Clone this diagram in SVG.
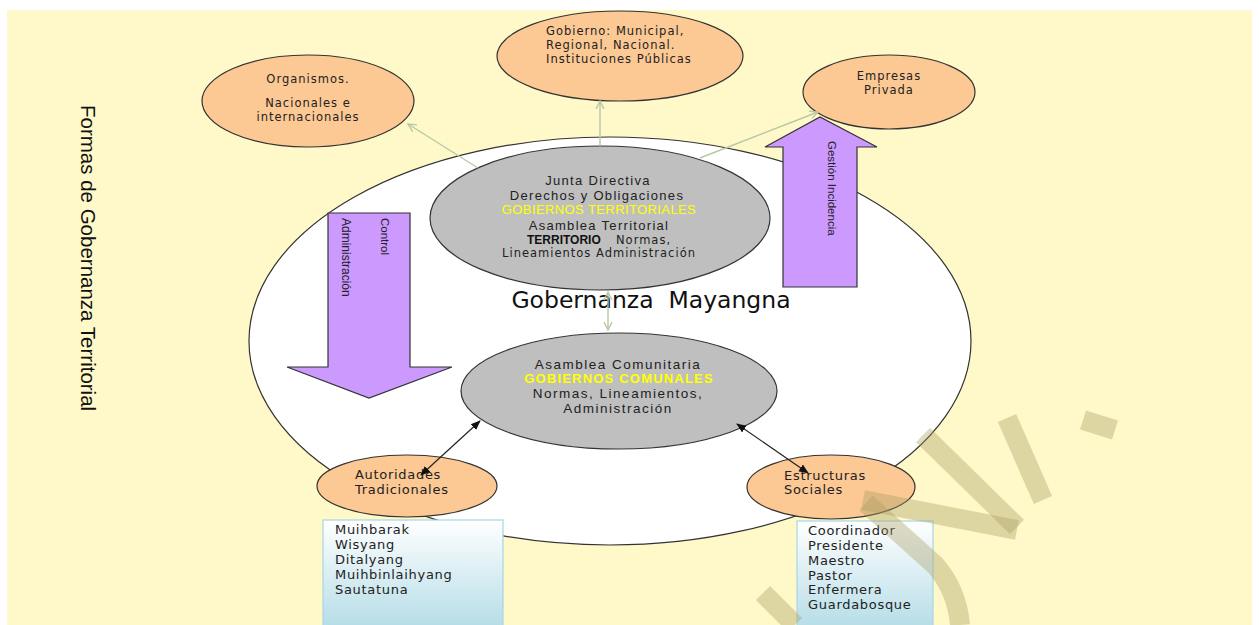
<svg xmlns="http://www.w3.org/2000/svg" width="1259" height="625" viewBox="0 0 1259 625">
<defs>
<style>
.org{fill:#FCC894;stroke:#333;stroke-width:1.2}
.gray{fill:#BFBFBF;stroke:#333;stroke-width:1.2}
.purple{fill:#CC99FF;stroke:#333;stroke-width:1.2}
.vt{font-family:"DejaVu Sans",Verdana,sans-serif;font-size:11.5px;letter-spacing:1px;fill:#222}
.ct{font-family:"Liberation Sans",Arial,sans-serif;font-size:13px;letter-spacing:1.3px;fill:#222}
.lt{font-family:"DejaVu Sans",Verdana,sans-serif;font-size:13px;letter-spacing:0.7px;fill:#222}
.rt{font-family:"Liberation Sans",Arial,sans-serif;font-size:11.5px;fill:#222}
.yel{fill:#FFFF00}
.green{stroke:#B5C9A5;stroke-width:1.4;fill:none}
.black{stroke:#222;stroke-width:1.2;fill:none}
.box{stroke:#A6D6E6;stroke-width:1.2;fill:url(#boxg)}
.wm{stroke:#A89F63;stroke-opacity:0.38;stroke-width:20;fill:none}
</style>
<linearGradient id="boxg" x1="0" y1="0" x2="0" y2="1">
<stop offset="0" stop-color="#FFFFFF"/>
<stop offset="1" stop-color="#B4DCE7"/>
</linearGradient>
<marker id="ga" viewBox="0 0 10 10" refX="9" refY="5" markerWidth="10" markerHeight="10" markerUnits="userSpaceOnUse" orient="auto-start-reverse">
<path d="M1,1 L9,5 L1,9" fill="none" stroke="#B5C9A5" stroke-width="1.4"/>
</marker>
<marker id="ba" viewBox="0 0 10 10" refX="9" refY="5" markerWidth="10" markerHeight="10" markerUnits="userSpaceOnUse" orient="auto-start-reverse">
<path d="M0,1 L10,5 L0,9 Z" fill="#111"/>
</marker>
</defs>

<rect x="7" y="10" width="1245" height="615" fill="#FFF9C9"/>

<text x="81" y="105" transform="rotate(90 81 105)" style="font-family:'Liberation Sans',Arial,sans-serif;font-size:20.5px;fill:#111">Formas de Gobernanza Territorial</text>

<g id="gobernanza-mayangna">
<ellipse cx="610" cy="341" rx="361" ry="204" fill="#FFFFFF" stroke="#333" stroke-width="1.2"/>
<text x="651" y="308" text-anchor="middle" style="font-family:'DejaVu Sans',Verdana,sans-serif;font-size:23.5px;fill:#111">Gobernanza&#160; Mayangna</text>
</g>

<g id="arrow-control">
<polygon class="purple" points="328,213 410,213 410,367 452,367 369,398 287,367 328,367"/>
<text class="rt" x="381" y="218" transform="rotate(90 381 218)">Control</text>
<text class="rt" x="342" y="218" transform="rotate(90 342 218)" style="font-size:12px">Administración</text>
</g>

<g id="arrow-gestion">
<polygon class="purple" points="783,287 857,287 857,147 877,147 820,117 765,147 783,147"/>
<text class="rt" x="828" y="141" transform="rotate(90 828 141)">Gestión Incidencia</text>
</g>

<g id="junta-directiva">
<ellipse class="gray" cx="600" cy="218" rx="170" ry="72"/>
<text class="ct" x="598" y="185" text-anchor="middle">Junta Directiva</text>
<text class="ct" x="597" y="200" text-anchor="middle">Derechos y Obligaciones</text>
<text class="ct yel" x="599" y="214" text-anchor="middle" style="letter-spacing:0.4px">GOBIERNOS TERRITORIALES</text>
<text class="ct" x="599" y="230" text-anchor="middle">Asamblea Territorial</text>
<text x="527" y="244" style="font-family:'Liberation Sans',Arial,sans-serif;font-size:12px;font-weight:bold;fill:#111">TERRITORIO</text>
<text class="vt" x="616" y="244">Normas,</text>
<text class="vt" x="599" y="257" text-anchor="middle">Lineamientos Administración</text>
</g>

<g id="asamblea-comunitaria">
<ellipse class="gray" cx="619" cy="391" rx="158" ry="58"/>
<text class="ct" x="618" y="369" text-anchor="middle" style="font-size:13.5px;letter-spacing:1.5px">Asamblea Comunitaria</text>
<text class="ct yel" x="619" y="383" text-anchor="middle" style="font-weight:bold;letter-spacing:1.2px">GOBIERNOS COMUNALES</text>
<text class="ct" x="618" y="398" text-anchor="middle" style="font-size:13.5px;letter-spacing:1.5px">Normas, Lineamientos,</text>
<text class="ct" x="618" y="413" text-anchor="middle" style="font-size:13.5px;letter-spacing:1.5px">Administración</text>
</g>

<g id="organismos">
<ellipse class="org" cx="308" cy="101" rx="106" ry="46"/>
<text class="vt" x="308" y="83" text-anchor="middle">Organismos.</text>
<text class="vt" x="308" y="107" text-anchor="middle">Nacionales e</text>
<text class="vt" x="308" y="121" text-anchor="middle">internacionales</text>
</g>

<g id="gobierno">
<ellipse class="org" cx="620" cy="56" rx="123" ry="45"/>
<text class="vt" x="546" y="35">Gobierno: Municipal,</text>
<text class="vt" x="546" y="49">Regional, Nacional.</text>
<text class="vt" x="546" y="63">Instituciones Públicas</text>
</g>

<g id="empresas">
<ellipse class="org" cx="889" cy="92" rx="86" ry="37"/>
<text class="vt" x="889" y="80" text-anchor="middle">Empresas</text>
<text class="vt" x="889" y="94" text-anchor="middle">Privada</text>
</g>

<g id="autoridades">
<ellipse class="org" cx="407" cy="486" rx="90" ry="31"/>
<text class="lt" x="355" y="479">Autoridades</text>
<text class="lt" x="355" y="494">Tradicionales</text>
</g>

<g id="estructuras">
<ellipse class="org" cx="831" cy="487" rx="84" ry="32"/>
<text class="lt" x="784" y="480">Estructuras</text>
<text class="lt" x="784" y="494">Sociales</text>
</g>

<g id="lista-autoridades">
<rect class="box" x="323" y="520" width="180" height="110"/>
<text class="lt" x="335" y="534">Muihbarak</text>
<text class="lt" x="335" y="549">Wisyang</text>
<text class="lt" x="335" y="564">Ditalyang</text>
<text class="lt" x="335" y="579">Muihbinlaihyang</text>
<text class="lt" x="335" y="594">Sautatuna</text>
</g>

<g id="lista-estructuras">
<rect class="box" x="797" y="521" width="136" height="110"/>
<text class="lt" x="808" y="535">Coordinador</text>
<text class="lt" x="808" y="550">Presidente</text>
<text class="lt" x="808" y="565">Maestro</text>
<text class="lt" x="808" y="580">Pastor</text>
<text class="lt" x="808" y="594">Enfermera</text>
<text class="lt" x="808" y="609">Guardabosque</text>
</g>

<g id="connectors">
<line class="green" x1="478" y1="168" x2="408" y2="124" marker-end="url(#ga)"/>
<line class="green" x1="600" y1="146" x2="600" y2="101" marker-end="url(#ga)"/>
<line class="green" x1="700" y1="158" x2="818" y2="112" marker-end="url(#ga)"/>
<line class="green" x1="608" y1="292" x2="608" y2="330" marker-start="url(#ga)" marker-end="url(#ga)"/>
<line class="black" x1="480" y1="421" x2="421" y2="475" marker-start="url(#ba)" marker-end="url(#ba)"/>
<line class="black" x1="737" y1="424" x2="808" y2="473" marker-start="url(#ba)" marker-end="url(#ba)"/>
</g>

<g id="watermark">
<line class="wm" x1="923" y1="435" x2="1017" y2="527"/>
<line class="wm" x1="1007" y1="418" x2="1043" y2="500"/>
<line class="wm" x1="1083" y1="420" x2="1115" y2="430"/>
<line class="wm" x1="863" y1="500" x2="1017" y2="530"/>
<path class="wm" d="M866,503 L935,565 Q957,590 960,625"/>
<line class="wm" x1="763" y1="593" x2="795" y2="625"/>
</g>
</svg>
